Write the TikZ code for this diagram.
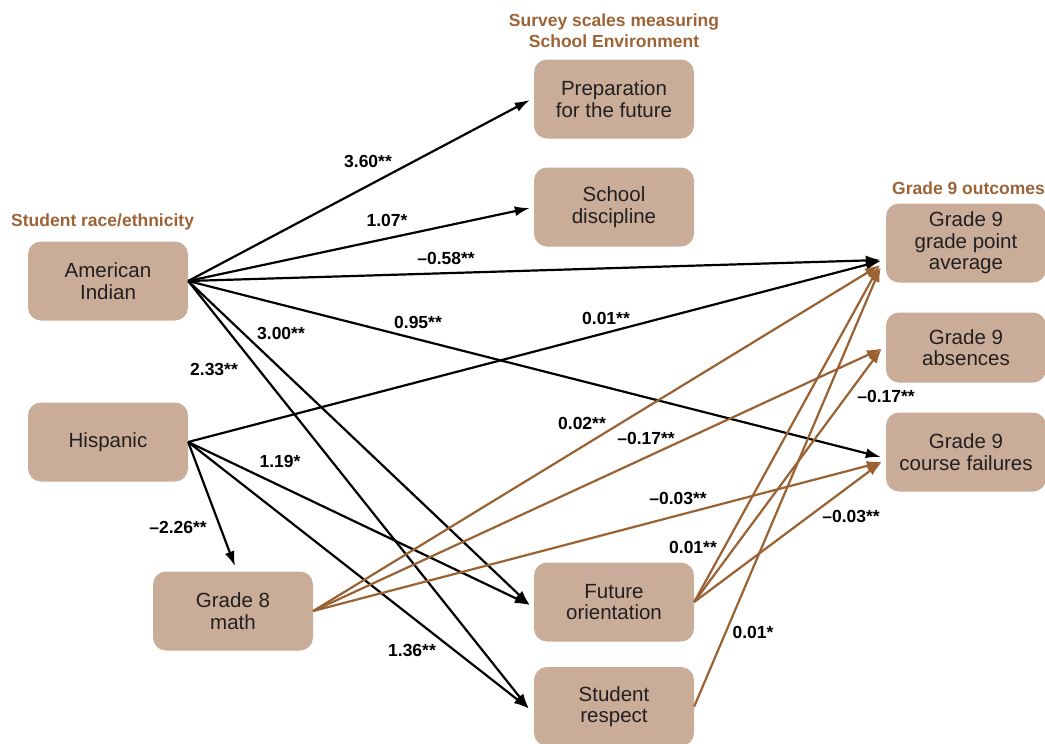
\documentclass[tikz,border=0pt]{standalone}
\usepackage{fontspec}
\setmainfont{Liberation Sans}
\usetikzlibrary{arrows.meta,calc}
\definecolor{boxc}{HTML}{C9AD98}
\definecolor{brn}{HTML}{9A6233}
\definecolor{hdr}{HTML}{9C6336}
\definecolor{txt}{HTML}{231F20}
\begin{document}
\begin{tikzpicture}[x=1pt,y=-1pt,
 box/.style={fill=boxc, rounded corners=13pt, minimum width=160pt, minimum height=79pt, inner sep=0pt, align=center, font=\fontsize{20.5}{21.5}\selectfont, text=txt},
 lbl/.style={font=\bfseries\fontsize{17.5}{20}\selectfont, inner sep=0pt, text=black},
 hd/.style={font=\bfseries\fontsize{17.5}{21}\selectfont, text=hdr, inner sep=0pt, align=center},
 blk/.style={draw=black, line width=2.2pt, -{Latex[length=15pt,width=10pt]}},
 org/.style={draw=brn, line width=2.2pt, -{Latex[length=15pt,width=10pt]}},
]
\useasboundingbox (0,0) rectangle (1045,744);

% nodes
\node[box] (ai) at (108,281) {American\\Indian};
\node[box] (hi) at (108,442) {Hispanic};
\node[box] (g8) at (233,611) {Grade 8\\math};
\node[box] (pf) at (614,99) {Preparation\\for the future};
\node[box] (sd) at (614,207) {School\\discipline};
\node[box] (fo) at (614,602) {Future\\orientation};
\node[box] (sr) at (614,706.5) {Student\\respect};
\node[box] (gpa) at (966,243) {Grade 9\\grade point\\average};
\node[box, minimum height=70pt] (abs) at (966,347.5) {Grade 9\\absences};
\node[box] (cf) at (966,452) {Grade 9\\course failures};

% headers
\node[hd] (h1) at (614,31) {Survey scales measuring\\School Environment};
\node[hd, anchor=west] (h2) at (11,222) {Student race/ethnicity};
\node[hd, anchor=west] (h3) at (892,188) {Grade 9 outcomes};

% black connectors
\draw[blk] (ai.east) -- ($(pf.west)+(-4,1)$);
\draw[blk] (ai.east) -- ($(sd.west)+(-4,1)$);
\draw[blk] (ai.east) -- ($(gpa.west)+(-5,17)$);
\draw[blk] (ai.east) -- ($(cf.west)+(-5,5)$);
\draw[blk] (ai.east) -- ($(fo.west)+(-4,3)$);
\draw[blk] (ai.east) -- ($(sr.west)+(-5,2)$);
\draw[blk] (hi.east) -- ($(gpa.west)+(-5,18)$);
\draw[blk] (hi.east) -- ($(g8.north)+(2,-5)$);
\draw[blk] (hi.east) -- ($(fo.west)+(-4,3)$);
\draw[blk] (hi.east) -- ($(sr.west)+(-5,2)$);

% brown connectors
\draw[org] (g8.east) -- ($(gpa.west)+(-6,22)$);
\draw[org] (g8.east) -- ($(abs.west)+(-4,1)$);
\draw[org] (g8.east) -- ($(cf.west)+(-4,10)$);
\draw[org] (fo.east) -- ($(gpa.west)+(-6,22)$);
\draw[org] (fo.east) -- ($(abs.west)+(-4,1)$);
\draw[org] (fo.east) -- ($(cf.west)+(-4,10)$);
\draw[org] (sr.east) -- ($(gpa.west)+(-5,24)$);

% labels
\node[lbl] (l1) at (368,161) {3.60**};
\node[lbl] (l2) at (387,220) {1.07*};
\node[lbl] (l3) at (446,258) {–0.58**};
\node[lbl] (l4) at (418,322) {0.95**};
\node[lbl] (l5) at (281,333) {3.00**};
\node[lbl] (l6) at (214,369) {2.33**};
\node[lbl] (l7) at (606,318) {0.01**};
\node[lbl] (l8) at (582,423) {0.02**};
\node[lbl] (l9) at (646,438) {–0.17**};
\node[lbl] (l10) at (886,396) {–0.17**};
\node[lbl] (l11) at (280,461) {1.19*};
\node[lbl] (l12) at (678,498) {–0.03**};
\node[lbl] (l13) at (851,516) {–0.03**};
\node[lbl] (l14) at (178,527) {–2.26**};
\node[lbl] (l15) at (693,547) {0.01**};
\node[lbl] (l16) at (753,632) {0.01*};
\node[lbl] (l17) at (412,650) {1.36**};
\end{tikzpicture}
\end{document}
